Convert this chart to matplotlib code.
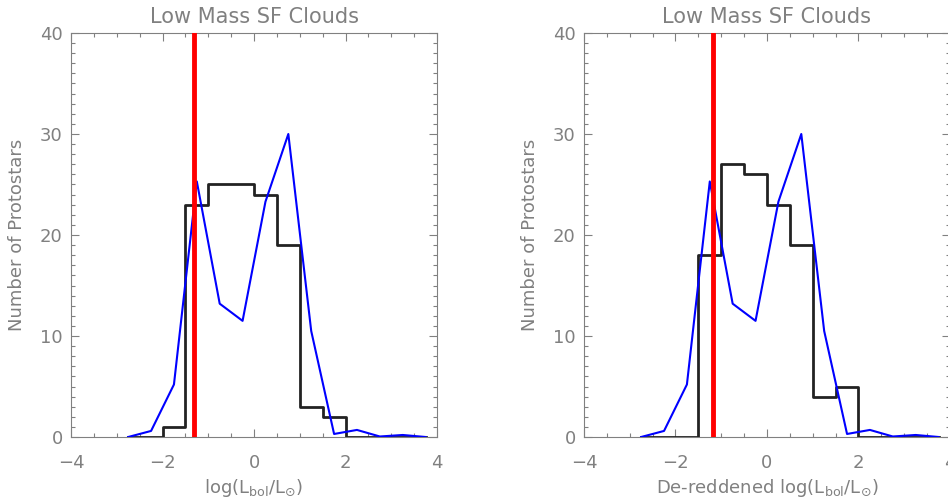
import numpy as np
import matplotlib
matplotlib.use("Agg")
import matplotlib.pyplot as plt
from matplotlib.ticker import MultipleLocator

# bin centres of log(Lbol/Lsun), 0.5 dex bins
bin_centres = [-2.75, -2.25, -1.75, -1.25, -0.75, -0.25, 0.25, 0.75,
               1.25, 1.75, 2.25, 2.75, 3.25, 3.75]
# observed histogram (black)
counts_obs = [0, 0, 1, 23, 25, 25, 24, 19, 3, 2, 0, 0, 0, 0]
# de-reddened histogram (black, right panel)
counts_dered = [0, 0, 0, 18, 27, 26, 23, 19, 4, 5, 0, 0, 0, 0]
# comparison distribution (blue), same in both panels
counts_model = [0, 0.6, 5.2, 25.3, 13.2, 11.5, 23.3, 30.0,
                10.5, 0.3, 0.7, 0.05, 0.2, 0]
# red vertical markers
red_line = [-1.31, -1.19]

title = "Low Mass SF Clouds"
ylabel = "Number of Protostars"
xlabels = [r"log(L$_{\rm bol}$/L$_{\odot}$)",
           r"De-reddened log(L$_{\rm bol}$/L$_{\odot}$)"]

grey = "#808080"


def style(ax):
    ax.set_xlim(-4, 4)
    ax.set_ylim(0, 40)
    ax.xaxis.set_major_locator(MultipleLocator(2))
    ax.xaxis.set_minor_locator(MultipleLocator(0.5))
    ax.yaxis.set_major_locator(MultipleLocator(10))
    ax.yaxis.set_minor_locator(MultipleLocator(1))
    ax.tick_params(which="both", direction="in", top=True, right=True,
                   color=grey, width=0.8, labelcolor=grey, labelsize=13)
    ax.tick_params(which="major", length=6)
    ax.tick_params(which="minor", length=3)
    ax.tick_params(axis="x", pad=12)
    ax.tick_params(axis="y", pad=6)
    for s in ax.spines.values():
        s.set_color(grey)
        s.set_linewidth(0.8)
    ax.set_title(title, color=grey, fontsize=15, pad=7)
    ax.set_ylabel(ylabel, color=grey, fontsize=13, labelpad=10)


def main():
    fig = plt.figure(figsize=(9.48, 5.0), dpi=100)
    ax1 = fig.add_axes([0.0749, 0.126, 0.3861, 0.808])
    ax2 = fig.add_axes([0.616, 0.126, 0.3861, 0.808])

    for ax, counts, xl, xr in [(ax1, counts_obs, xlabels[0], red_line[0]),
                               (ax2, counts_dered, xlabels[1], red_line[1])]:
        style(ax)
        ax.step(bin_centres, counts, where="mid", color="#222222", lw=2.0,
                zorder=3)
        ax.plot(bin_centres, counts_model, color="#0000ff", lw=1.5, zorder=4)
        ax.axvline(xr, color="#ff0000", lw=3.5, zorder=5)
        ax.set_xlabel(xl, color=grey, fontsize=13, labelpad=4)

    fig.savefig("out.png", dpi=100)


if __name__ == "__main__":
    main()
